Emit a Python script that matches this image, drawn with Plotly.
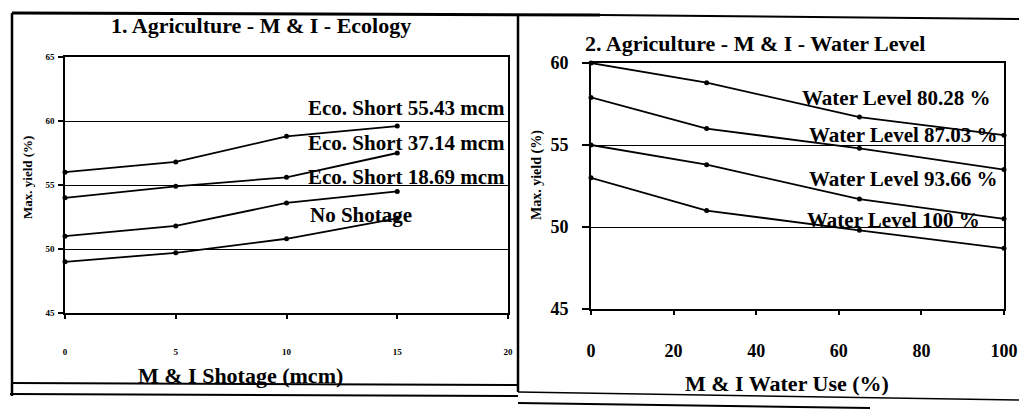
import plotly.graph_objects as go

# ---- data ----
shortage_x = [0, 5, 10, 15]
eco_55 = [56.0, 56.8, 58.8, 59.6]
eco_37 = [54.0, 54.9, 55.6, 57.5]
eco_18 = [51.0, 51.8, 53.6, 54.5]
no_short = [49.0, 49.7, 50.8, 52.4]
left_names = ["Eco. Short 55.43 mcm", "Eco. Short 37.14 mcm", "Eco. Short 18.69 mcm", "No Shotage"]

water_use_x = [0, 28, 65, 100]
wl_80 = [60.0, 58.8, 56.7, 55.6]
wl_87 = [57.9, 56.0, 54.8, 53.5]
wl_93 = [55.0, 53.8, 51.7, 50.5]
wl_100 = [53.0, 51.0, 49.8, 48.7]
right_names = ["Water Level 80.28 %", "Water Level 87.03 %", "Water Level 93.66 %", "Water Level 100 %"]

left_ticks_y = [45, 50, 55, 60, 65]
left_ticks_x = [0, 5, 10, 15, 20]
right_ticks_y = [45, 50, 55, 60]
right_ticks_x = [0, 20, 40, 60, 80, 100]

W, H = 1019, 410
def px(x):
    return x / W
def py(y):
    return 1 - y / H

SERIF = "Liberation Serif"

fig = go.Figure()
for ys, nm in zip([eco_55, eco_37, eco_18, no_short], left_names):
    fig.add_trace(go.Scatter(x=shortage_x, y=ys, name=nm, mode="lines+markers",
                             line=dict(color="black", width=1.8),
                             marker=dict(color="black", size=5),
                             xaxis="x", yaxis="y", cliponaxis=False, showlegend=False))
for ys, nm in zip([wl_80, wl_87, wl_93, wl_100], right_names):
    fig.add_trace(go.Scatter(x=water_use_x, y=ys, name=nm, mode="lines+markers",
                             line=dict(color="black", width=1.8),
                             marker=dict(color="black", size=5),
                             xaxis="x2", yaxis="y2", cliponaxis=False, showlegend=False))

axis_common = dict(showline=True, linecolor="black", linewidth=1.6, mirror=True,
                   ticks="outside", tickcolor="black", tickwidth=1.5, zeroline=False, automargin=False)

fig.update_layout(
    width=W, height=H, margin=dict(l=0, r=0, t=0, b=0, autoexpand=False),
    paper_bgcolor="white", plot_bgcolor="white",
    font=dict(family=SERIF, color="black"),
    xaxis=dict(domain=[px(65), px(508)], range=[0, 20], tickvals=left_ticks_x,
               ticklen=4, showgrid=False, anchor="y",
               tickfont=dict(size=9, family=SERIF, weight="bold"),
               ticklabelstandoff=25, **axis_common),
    yaxis=dict(domain=[py(313), py(57)], range=[45, 65], tickvals=left_ticks_y,
               ticklen=5, showgrid=True, gridcolor="black", gridwidth=1.3, anchor="x",
               tickfont=dict(size=9, family=SERIF, weight="bold"),
               ticklabelstandoff=2, **axis_common),
    xaxis2=dict(domain=[px(591), px(1004)], range=[0, 100], tickvals=right_ticks_x,
                ticklen=4, showgrid=False, anchor="y2",
                tickfont=dict(size=18, family=SERIF, weight="bold"),
                ticklabelstandoff=21, **axis_common),
    yaxis2=dict(domain=[py(309), py(63)], range=[45, 60], tickvals=right_ticks_y,
                ticklen=7, showgrid=True, gridcolor="black", gridwidth=1.3, anchor="x2",
                tickfont=dict(size=18, family=SERIF, weight="bold"),
                ticklabelstandoff=10, **axis_common),
)

ann = []
# series labels (left)
lab_left = [(19.95, 61.0, "right"), (19.95, 58.3, "right"), (19.95, 55.6, "right"), (10.97, 52.65, "left")]
for (x, y, xa), nm in zip(lab_left, left_names):
    ann.append(dict(x=x, y=y, xref="x", yref="y", text=nm, showarrow=False, xanchor=xa,
                    yanchor="middle", font=dict(size=21, family=SERIF, weight="bold")))
lab_right = [(50.6, 57.85), (52.3, 55.6), (52.3, 52.9), (51.8, 50.4)]
for (x, y), nm in zip(lab_right, right_names):
    ann.append(dict(x=x, y=y, xref="x2", yref="y2", text=nm, showarrow=False, xanchor="left",
                    yanchor="middle", font=dict(size=21, family=SERIF, weight="bold")))

def pann(x, y, text, size, angle=0):
    return dict(x=px(x), y=py(y), xref="paper", yref="paper", text=text, showarrow=False,
                xanchor="center", yanchor="middle", textangle=angle,
                font=dict(size=size, family=SERIF, weight="bold"))

ann += [
    pann(261, 25, "1. Agriculture - M & I - Ecology", 22),
    pann(755, 44, "2. Agriculture - M & I - Water Level", 22),
    pann(240, 375, "M & I Shotage (mcm)", 22),
    pann(787, 383, "M & I Water Use (%)", 22),
    pann(28, 178, "Max. yield (%)", 13, -90),
    pann(537, 175, "Max. yield (%)", 14, -90),
]
fig.update_layout(annotations=ann)

# frame lines
def seg(x0, y0, x1, y1, w=2):
    return dict(type="line", xref="paper", yref="paper", x0=px(x0), y0=py(y0), x1=px(x1), y1=py(y1),
                line=dict(color="black", width=w))
fig.update_layout(shapes=[
    seg(12, 13, 600, 15, 3),
    seg(600, 15, 1019, 19, 2),
    seg(12, 13, 12, 396, 2.5),
    seg(518, 16, 518, 392, 2.5),
    seg(12, 383, 518, 385, 2),
    seg(10, 394, 518, 396, 2),
    seg(518, 392, 1019, 400, 1.5),
    seg(518, 403, 870, 408, 2),
])

fig.write_html("out.html", config={"displayModeBar": False},
               post_script="document.body.style.margin='0';document.body.style.overflow='hidden';")
